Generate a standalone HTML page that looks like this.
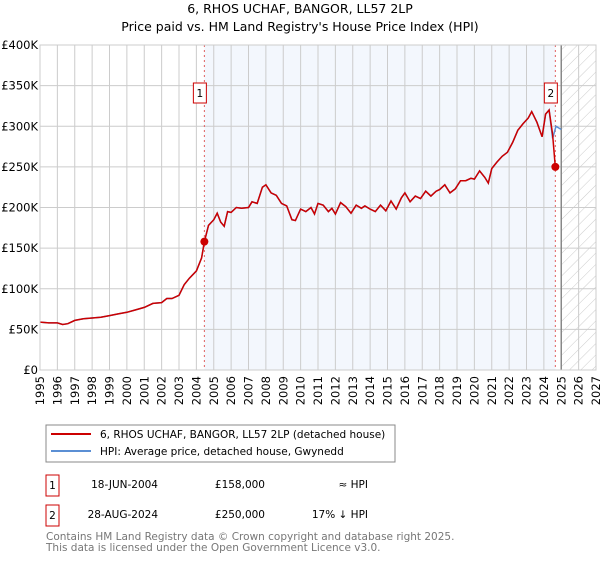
<!DOCTYPE html>
<html><head><meta charset="utf-8"><style>
body{margin:0;background:#fff;font-family:"Liberation Sans","DejaVu Sans",sans-serif;}
svg text{font-family:"DejaVu Sans","Liberation Sans",sans-serif;}
</style></head><body>
<svg width="600" height="560" viewBox="0 0 600 560">
<defs><pattern id="hatch" width="8" height="8" patternUnits="userSpaceOnUse" patternTransform="rotate(45)"><line x1="0" y1="0" x2="0" y2="8" stroke="#ccc" stroke-width="1"/></pattern></defs>
<text x="300" y="13" text-anchor="middle" font-size="12.5">6, RHOS UCHAF, BANGOR, LL57 2LP</text>
<text x="300" y="31" text-anchor="middle" font-size="12.5">Price paid vs. HM Land Registry's House Price Index (HPI)</text>
<g id="plot"></g>
<g>
<rect x="46" y="425" width="349" height="37" fill="#fff" stroke="#888"/>
<line x1="51" y1="434" x2="91" y2="434" stroke="#cc0000" stroke-width="2"/>
<text x="100" y="438" font-size="10.5">6, RHOS UCHAF, BANGOR, LL57 2LP (detached house)</text>
<line x1="51" y1="451" x2="91" y2="451" stroke="#5b8fd4" stroke-width="2"/>
<text x="100" y="455" font-size="10.5">HPI: Average price, detached house, Gwynedd</text>
</g>
<g font-size="10.5">
<rect x="46" y="475" width="13" height="21" fill="#fff" stroke="#cc0000"/><text x="52.5" y="489" text-anchor="middle">1</text>
<text x="158" y="488" text-anchor="end">18-JUN-2004</text><text x="265" y="488" text-anchor="end">£158,000</text><text x="368" y="488" text-anchor="end">≈ HPI</text>
<rect x="46" y="505" width="13" height="21" fill="#fff" stroke="#cc0000"/><text x="52.5" y="519" text-anchor="middle">2</text>
<text x="158" y="518" text-anchor="end">28-AUG-2024</text><text x="265" y="518" text-anchor="end">£250,000</text><text x="368" y="518" text-anchor="end">17% ↓ HPI</text>
</g>
<text x="46" y="540" font-size="10.5" fill="#777">Contains HM Land Registry data © Crown copyright and database right 2025.</text>
<text x="46" y="551" font-size="10.5" fill="#777">This data is licensed under the Open Government Licence v3.0.</text>
</svg>
<script>
const hpiYears=[1995,1995.5,1996,1996.3,1996.6,1997,1997.5,1998,1998.5,1999,1999.5,2000,2000.5,2001,2001.5,2002,2002.3,2002.6,2003,2003.3,2003.6,2004,2004.3,2004.46,2004.7,2005,2005.2,2005.4,2005.6,2005.8,2006,2006.3,2006.6,2007,2007.2,2007.5,2007.8,2008,2008.3,2008.6,2008.9,2009.2,2009.5,2009.7,2010,2010.3,2010.6,2010.8,2011,2011.3,2011.6,2011.8,2012,2012.3,2012.6,2012.9,2013.2,2013.5,2013.7,2014,2014.3,2014.6,2014.9,2015.2,2015.5,2015.8,2016,2016.3,2016.6,2016.9,2017.2,2017.5,2017.8,2018,2018.3,2018.6,2018.9,2019.2,2019.5,2019.8,2020,2020.3,2020.6,2020.8,2021,2021.3,2021.6,2021.9,2022.2,2022.5,2022.8,2023.1,2023.3,2023.6,2023.9,2024.1,2024.3,2024.5,2024.7,2025];
const hpiValues=[59,58,58,56,57,61,63,64,65,67,69,71,74,77,82,83,88,88,92,105,113,122,138,158,178,185,193,182,177,195,194,200,199,200,207,205,225,228,218,215,205,202,185,184,198,195,200,192,205,203,195,199,192,206,201,193,203,199,202,198,195,203,196,208,198,212,218,207,214,211,220,214,220,222,228,218,223,233,233,236,235,245,237,230,248,256,263,268,280,295,303,310,318,305,287,315,320,285,300,296];
const priceTailYears=[2024.5,2024.66];
const priceTailValues=[290,250];
const saleYears=[2004.46,2024.66];
const saleValues=[158,250];
const yTicks=[0,50,100,150,200,250,300,350,400];
const yTickLabels=["£0","£50K","£100K","£150K","£200K","£250K","£300K","£350K","£400K"];
const xTicks=[];for(let y=1995;y<=2027;y++)xTicks.push(y);

const X0=40,X1=596,Y0=370,Y1=45;
const xs=y=>X0+(y-1995)/(2027-1995)*(X1-X0);
const ys=v=>Y0-v/400*(Y0-Y1);
const NS="http://www.w3.org/2000/svg";
const g=document.getElementById('plot');
function mk(t,a,p){const e=document.createElementNS(NS,t);for(const k in a)e.setAttribute(k,a[k]);(p||g).appendChild(e);return e;}

let r=mk('rect',{x:xs(saleYears[0]),y:Y1,width:xs(saleYears[1])-xs(saleYears[0]),height:Y0-Y1,fill:'#eef3fc',opacity:0.7});


let h=mk('rect',{x:xs(2025),y:Y1,width:X1-xs(2025),height:Y0-Y1,fill:'url(#hatch)'});


xTicks.forEach(t=>{
  const l=mk('line',{x1:xs(t),x2:xs(t),y1:Y1,y2:Y0,stroke:'#ccc','stroke-width':1});
  
  
  const tx=mk('text',{x:0,y:0,'font-size':11.5,'text-anchor':'end',transform:`translate(${xs(t)+4},${Y0+6}) rotate(-90)`});
  tx.textContent=t;
  
  
});
yTicks.forEach((t,i)=>{
  const l=mk('line',{x1:X0,x2:X1,y1:ys(t),y2:ys(t),stroke:'#ccc','stroke-width':1});
  
  
  const tx=mk('text',{x:X0-2,y:ys(t)+4,'font-size':11.5,'text-anchor':'end'});
  tx.textContent=yTickLabels[i];
  
  
});
let v=mk('line',{x1:xs(2025),x2:xs(2025),y1:Y1,y2:Y0,stroke:'#888','stroke-width':1.5});


saleYears.forEach((sy,i)=>{
  const l=mk('line',{x1:xs(sy),x2:xs(sy),y1:Y1,y2:Y0,stroke:'#e06060','stroke-width':1,'stroke-dasharray':'2,3'});
  
  
});
const hp=hpiYears.map((y,i)=>`${xs(y).toFixed(1)},${ys(hpiValues[i]).toFixed(1)}`).join(' ');
let hl=mk('polyline',{points:hp,fill:'none',stroke:'#5b8fd4','stroke-width':1.5});


const pp=[];
hpiYears.forEach((y,i)=>{if(y<priceTailYears[0])pp.push(`${xs(y).toFixed(1)},${ys(hpiValues[i]).toFixed(1)}`);});
priceTailYears.forEach((y,i)=>pp.push(`${xs(y).toFixed(1)},${ys(priceTailValues[i]).toFixed(1)}`));
let pl=mk('polyline',{points:pp.join(' '),fill:'none',stroke:'#cc0000','stroke-width':1.5});


saleYears.forEach((sy,i)=>{
  const c=mk('circle',{cx:xs(sy),cy:ys(saleValues[i]),r:4,fill:'#cc0000'});
  
  
  const b=mk('rect',{x:xs(sy)-11,y:83,width:13,height:20,fill:'#fff',stroke:'#cc0000'});
  
  
  const t=mk('text',{x:xs(sy)-4.5,y:97,'font-size':10.5,'text-anchor':'middle'});
  t.textContent=String(i+1);
  
  
});
let fr=mk('rect',{x:X0,y:Y1,width:X1-X0,height:Y0-Y1,fill:'none',stroke:'#ccc'});


</script>
</body></html>
